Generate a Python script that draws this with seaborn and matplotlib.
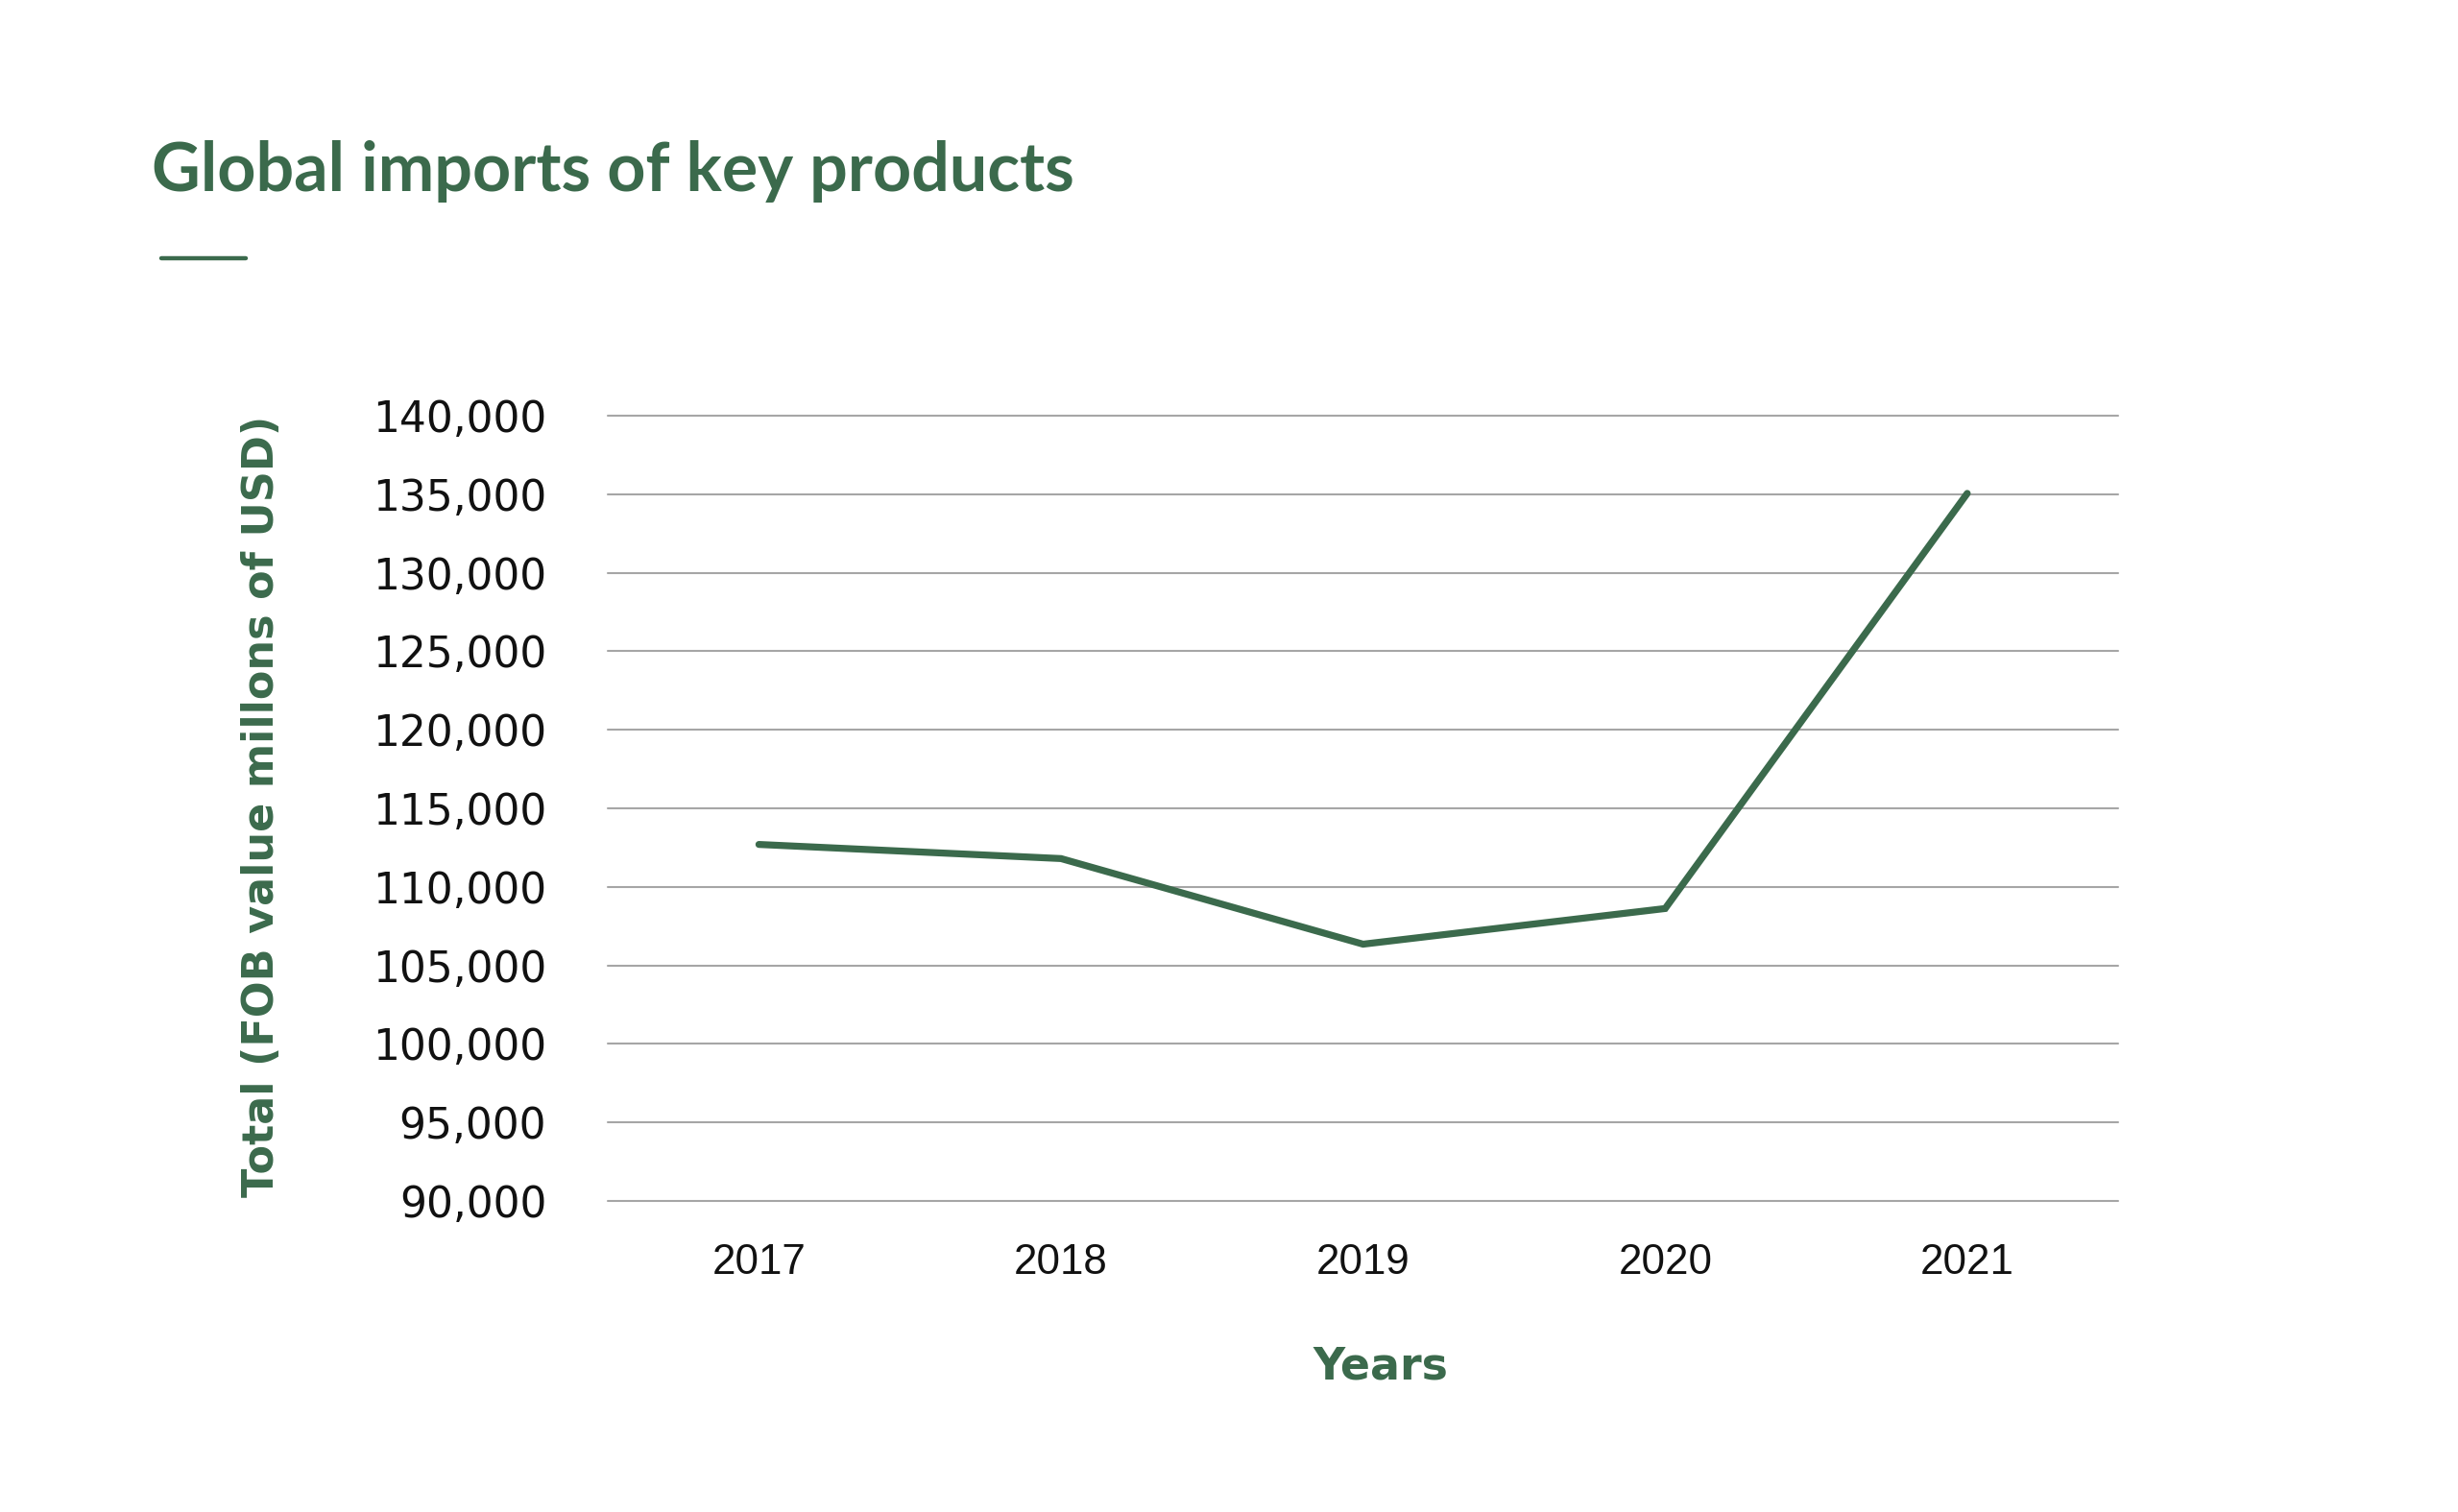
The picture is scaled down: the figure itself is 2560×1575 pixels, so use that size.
import matplotlib
matplotlib.use("Agg")
import matplotlib.pyplot as plt
import seaborn as sns
import pandas as pd
from matplotlib.lines import Line2D
from matplotlib.ticker import FuncFormatter

years = ["2017", "2018", "2019", "2020", "2021"]
imports_total = [112700, 111800, 106350, 108620, 135050]
y_ticks = [90000, 95000, 100000, 105000, 110000, 115000, 120000, 125000, 130000, 135000, 140000]

title = "Global imports of key products"
y_label = "Total (FOB value millons of USD)"
x_label = "Years"

GREEN = "#3b6a4c"
GRID = "#a6a6a6"

sns.set_theme(style="white")
plt.rcParams["font.family"] = ["DejaVu Sans"]

df = pd.DataFrame({"year": years, "total": imports_total})

fig = plt.figure(figsize=(12.8, 7.875), dpi=200)
ax = fig.add_axes([0.2473, 0.2057, 0.6145, 0.5194])

sns.lineplot(data=df, x="year", y="total", ax=ax, color=GREEN, linewidth=2.6,
             sort=False, solid_capstyle="round", solid_joinstyle="miter")

ax.set_xlim(-0.5, len(years) - 0.5)
ax.set_ylim(y_ticks[0], y_ticks[-1])
ax.set_yticks(y_ticks)
ax.yaxis.set_major_formatter(FuncFormatter(lambda v, p: f"{int(v):,}"))
ax.grid(axis="y", color=GRID, linewidth=0.75)
ax.grid(axis="x", visible=False)
ax.set_axisbelow(True)
for gl in ax.get_ygridlines():
    gl.set_clip_on(False)
for s in ax.spines.values():
    s.set_visible(False)
ax.tick_params(axis="y", length=0, pad=23, labelsize=15.8, labelcolor="#111111")
ax.tick_params(axis="x", length=0, pad=16, labelsize=15.8, labelcolor="#111111")
for lbl in ax.get_xticklabels():
    lbl.set_fontfamily("Liberation Sans")
ax.set_xlabel("")
ax.set_ylabel("")

fig.text(0.0617, 0.8736, title, fontsize=25.2, fontweight="bold", color=GREEN,
         ha="left", va="baseline", family="Lato")
fig.add_artist(Line2D([0.0656, 0.100], [0.8292, 0.8292], color=GREEN, linewidth=1.6,
                      transform=fig.transFigure))
fig.text(0.1066, 0.467, y_label, rotation=90, fontsize=16, fontweight="bold",
         color=GREEN, ha="center", va="center")
fig.text(0.5617, 0.0959, x_label, fontsize=16.5, fontweight="bold", color=GREEN,
         ha="center", va="center")

fig.savefig("out.png", dpi=200, facecolor="white")
